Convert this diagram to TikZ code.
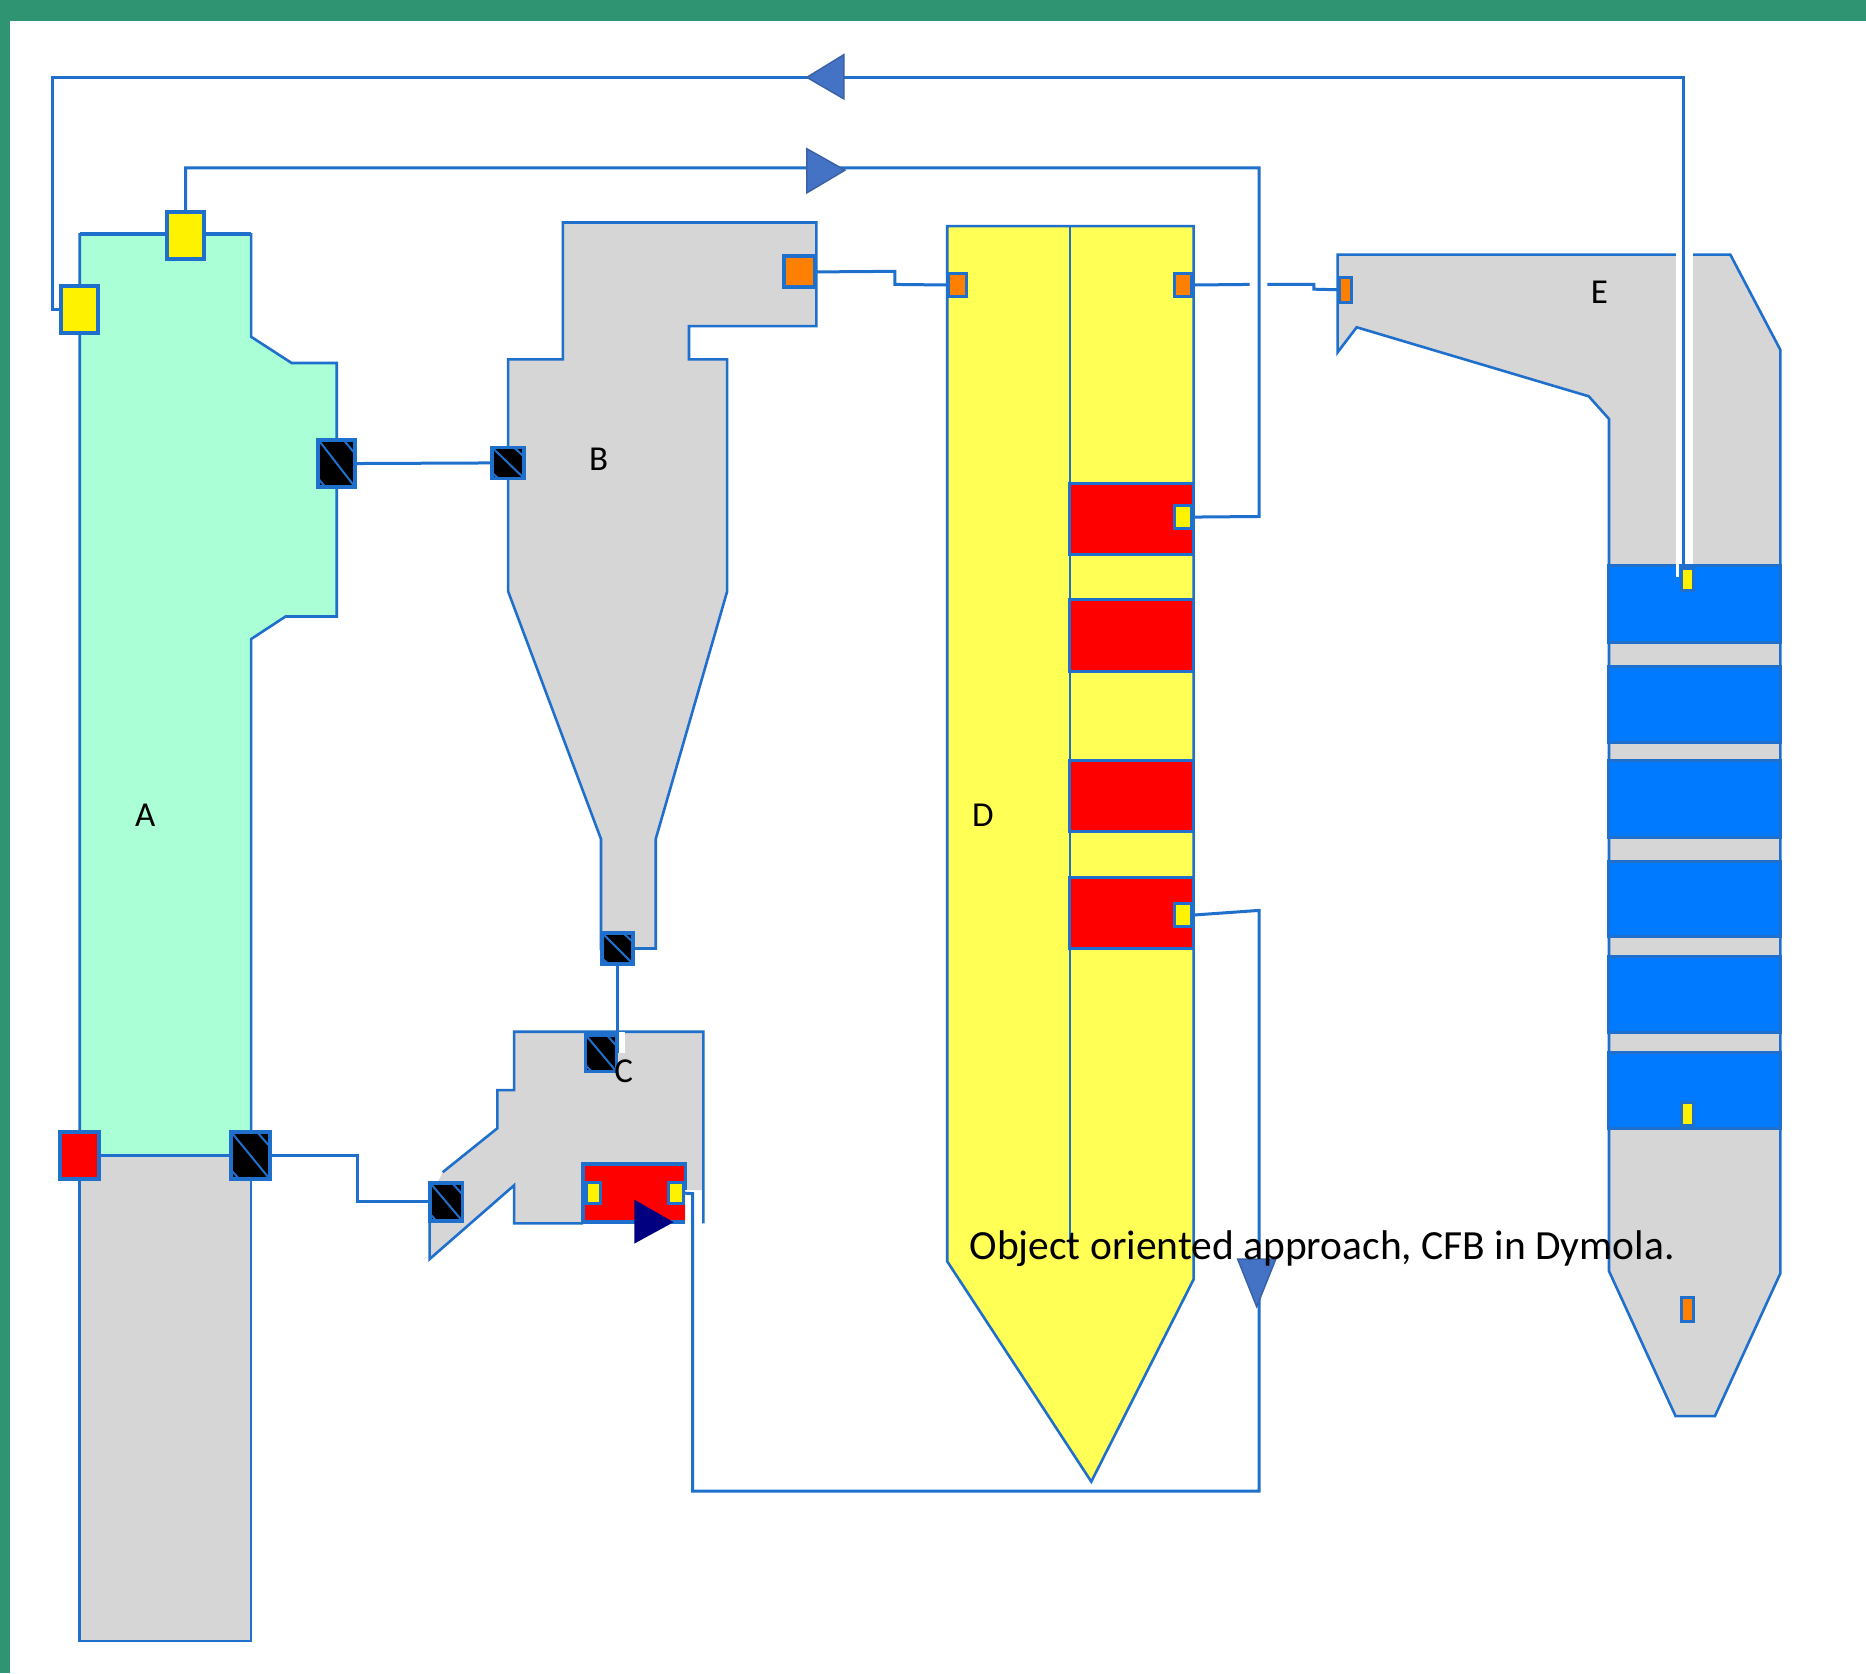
\documentclass[tikz,border=0pt]{standalone}
\usepackage{fontspec}
\setmainfont{Carlito}
\usetikzlibrary{calc}
\definecolor{ln}{HTML}{1F6FCD}
\definecolor{band}{HTML}{2E9471}
\definecolor{mint}{HTML}{AAFFD6}
\definecolor{grayfill}{HTML}{D6D6D6}
\definecolor{dyellow}{HTML}{FFFF55}
\definecolor{orangep}{HTML}{FF8000}
\definecolor{bluebox}{HTML}{007BFF}
\definecolor{arrowf}{HTML}{4472C4}
\definecolor{arrowd}{HTML}{3A62A8}
\definecolor{navyt}{HTML}{000080}
\tikzset{
  body/.style={draw=ln,line width=2.6pt,line join=miter},
  conn/.style={draw=ln,line width=3pt,line join=miter},
  psize/.style n args={2}{minimum width={(#1)*1.19pt-#2*1pt},minimum height={(#2)*1.19pt}},
  port/.style n args={3}{draw=ln,line width=#3pt,fill=#2,inner sep=0pt,outer sep=0pt,text=black},
  pdim/.style 2 args={minimum width={(#1)*1.19pt},minimum height={(#2)*1.19pt}},
  hatched/.style={path picture={
    \draw[ln,line width=2pt]
      (path picture bounding box.north west) -- (path picture bounding box.south east)
      ($(path picture bounding box.north west)!.68!(path picture bounding box.north east)$) --
      ($(path picture bounding box.north east)!.3!(path picture bounding box.south east)$)
      ($(path picture bounding box.north west)!.82!(path picture bounding box.south west)$) --
      ($(path picture bounding box.south west)!.2!(path picture bounding box.south east)$);}},
  arrowhead/.style={fill=arrowf,draw=arrowd,line width=1.5pt,line join=miter},
  lab/.style={font=\fontsize{35}{40}\selectfont,text=black,inner sep=0pt},
  caption/.style={font=\fontsize{41.5}{48}\selectfont,text=black,inner sep=0pt}
}
\begin{document}
\begin{tikzpicture}[x=1.19005pt,y=-1.19005pt]
\useasboundingbox (0,0) rectangle (1568,1406);
% frame
\fill[white] (0,0) rectangle (1568,1406);
\fill[band] (0,0) rectangle (1568,18);
\fill[band] (0,0) rectangle (8,1406);

% A
\draw[body,fill=mint] (67,197) -- (211,197) -- (211,283) -- (245,305) -- (283,305) -- (283,518) -- (240,518) -- (211,537) -- (211,971) -- (67,971) -- cycle;
\draw[ln,line width=4pt] (67,197) -- (211,197);
\draw[body,fill=grayfill] (67,971) rectangle (211,1379);
\draw[ln,line width=3.4pt] (67,971) -- (211,971);

% B
\draw[body,fill=grayfill] (473,187) -- (686,187) -- (686,274) -- (579,274) -- (579,302) -- (611,302) -- (611,497) -- (551,705) -- (551,797) -- (505,797) -- (505,705) -- (427,497) -- (427,302) -- (473,302) -- cycle;

% C
\fill[grayfill] (432,867) -- (591,867) -- (591,1000) -- (576,1000) -- (576,1028) -- (432,1028) -- (432,996) -- (361,1058) -- (361,1008) -- (372,985) -- (418,948) -- (418,916) -- (432,916) -- cycle;
\draw[body] (591,1028) -- (591,867) -- (432,867) -- (432,916) -- (418,916) -- (418,948) -- (372,985);
\draw[body] (361,1020) -- (361,1058) -- (432,996) -- (432,1028) -- (490,1028);

% D
\draw[body,fill=dyellow] (796,190) -- (1003,190) -- (1003,1075) -- (917,1245) -- (796,1060) -- cycle;
\draw[ln,line width=2.6pt] (899,190) -- (899,1045);
\foreach \a/\b in {406/466,504/564,639/699,737/797}{
  \draw[ln,line width=3pt,fill=red] (899,\a) rectangle (1003,\b);
}

% E
\draw[body,fill=grayfill] (1124,214) -- (1454,214) -- (1496,294) -- (1496,1070) -- (1441,1190) -- (1408,1190) -- (1352,1068) -- (1352,352) -- (1335,333) -- (1140,275) -- (1124,296) -- cycle;
\foreach \a/\b in {475/540,560/624,639/704,724/787,804/868,884/948}{
  \draw[ln,line width=3pt,fill=bluebox] (1352,\a) rectangle (1496,\b);
}
% white halo round the recycle line
\fill[white] (1408,210) rectangle (1423,474);
\fill[white] (1408,474) rectangle (1411,485);

% C inner red box
\fill[red] (490,978) rectangle (576,1028);
\draw[ln,line width=3.6pt] (490,1028) -- (490,978) -- (576,978) -- (576,1000);
\draw[ln,line width=3.6pt] (490,1027) -- (576,1027);

% ports
\node[port={}{yellow}{4},pdim={31}{39}] (atop) at (156,198) {};
\node[port={}{yellow}{4},pdim={31}{39}] (aleft) at (67,260) {};
\node[port={}{black}{4},pdim={31}{40},hatched] (aout) at (283,389.5) {};
\node[port={}{red}{4},pdim={33}{39}] (ared) at (67,971) {};
\node[port={}{black}{4},pdim={32}{39},hatched] (aret) at (210.5,971) {};
\node[port={}{black}{3.5},pdim={27}{26},hatched] (bin) at (427,389) {};
\node[port={}{orangep}{4},pdim={26}{26}] (bout) at (671.5,228.5) {};
\node[port={}{black}{3.5},pdim={26}{26},hatched] (bdown) at (519,797) {};
\node[port={}{black}{3.5},pdim={26}{31},hatched] (cin) at (505,885) {};
\node[port={}{black}{3.5},pdim={27}{32},hatched] (cout) at (375,1010) {};
\node[port={}{orangep}{3},pdim={15}{19}] (din) at (804.5,239.5) {};
\node[port={}{orangep}{3},pdim={15}{19}] (dout) at (994,239.5) {};
\node[port={}{yellow}{3},pdim={15}{19}] (dy1) at (994,434.5) {};
\node[port={}{yellow}{3},pdim={15}{19}] (dy2) at (994,769) {};
\node[port={}{orangep}{3},pdim={10}{21}] (ein) at (1130.5,243.5) {};
\node[port={}{yellow}{3},pdim={10}{19}] (ey1) at (1418,487) {};
\node[port={}{yellow}{3},pdim={10}{19}] (ey2) at (1418,936) {};
\node[port={}{orangep}{3},pdim={10}{20}] (eo) at (1418,1100.5) {};
\node[port={}{yellow}{3},pdim={12}{17}] (cy1) at (498.5,1002.5) {};
\node[port={}{yellow}{3},pdim={12}{17}] (cy2) at (568,1002.5) {};

% bends and free points
\coordinate (tl1) at (44,65);
\coordinate (tr1) at (1415,65);
\coordinate (mid) at (1058,141);
\coordinate (lowr) at (1058,1253);
\coordinate (lowl) at (582,1253);

% connectors
\draw[conn] (aout.east) -- (bin.west);
\draw[conn] (bout.east) -- (752,228) -- (752,239) -- (din.west);
\draw[conn,line width=2.6pt] (bdown.south) -- (519,885);
\fill[white] (520.5,867) rectangle (525,885);
\draw[conn] (aret.east) -- (300,971) -- (300,1010) -- (cout.west);
\draw[conn] (dout.east) -- (1050,239);
\draw[conn] (1065,239) -- (1104,239) -- (1104,243) -- (ein.west);
\draw[conn] (dy1.east) -- (1058,434) -- (mid) -- (156,141) -- (atop.north);
\draw[conn] (dy2.east) -- (1058,765) -- (lowr) -- (lowl) -- (582,1003) -- (cy2.east);
\draw[conn] (ey1.north -| 1415,0) -- (tr1) -- (tl1) -- (44,260) -- (aleft.west);

% arrowheads
\draw[arrowhead] (678,65) -- (709,46) -- (709,83) -- cycle;
\draw[arrowhead] (710,143) -- (678,125) -- (678,162) -- cycle;
\draw[arrowhead] (1056,1098) -- (1040,1058) -- (1072,1058) -- cycle;
\fill[navyt] (533,1008) -- (566,1027) -- (533,1045) -- cycle;

% labels
\node[lab] (la) at (122,685) {A};
\node[lab] (lb) at (503,386) {B};
\node[lab] (lc) at (524,900) {C};
\node[lab] (ld) at (826,685) {D};
\node[lab] (le) at (1344,246) {E};
\node[caption,anchor=base] (cap) at (1111,1058) {Object oriented approach, CFB in Dymola.};
\end{tikzpicture}
\end{document}
